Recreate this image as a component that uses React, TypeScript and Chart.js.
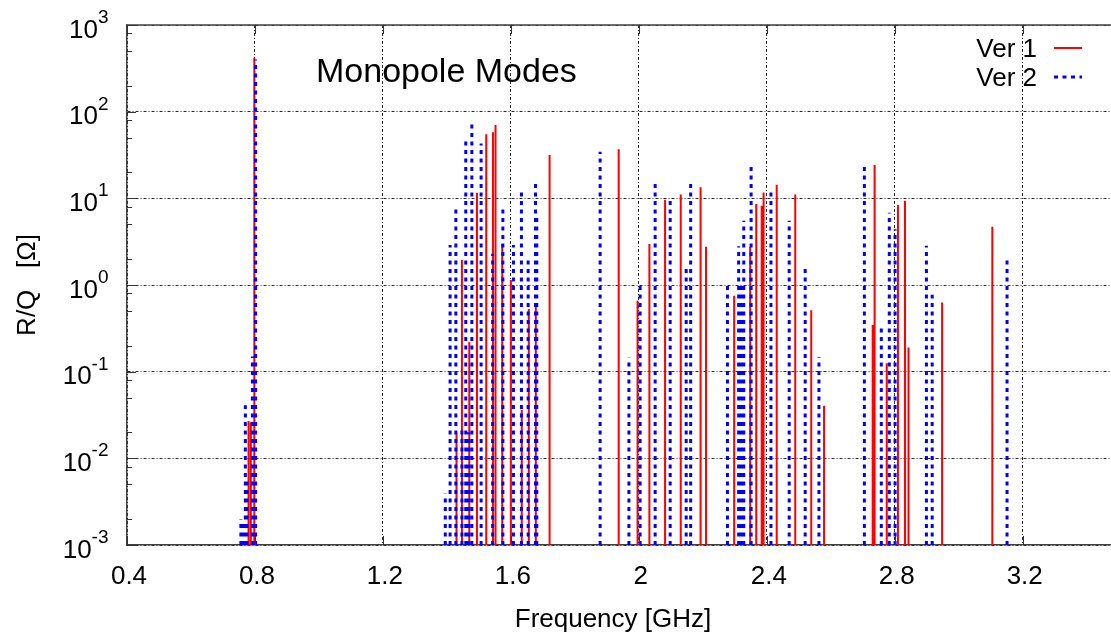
import React, { useEffect, useRef } from "react";
import { Chart, registerables } from "chart.js";

Chart.register(...registerables);

const FONT = '"Liberation Sans", Arial, Helvetica, sans-serif';

// Axis ranges
const FREQ_MIN = 0.4;
const FREQ_MAX = 3.476;
const RQ_MIN = 1e-3;
const RQ_MAX = 1e3;

const freqTickValues = [0.4, 0.8, 1.2, 1.6, 2.0, 2.4, 2.8, 3.2];
const freqTickLabels = ["0.4", "0.8", "1.2", "1.6", "2", "2.4", "2.8", "3.2"];
const rqExponents = [-3, -2, -1, 0, 1, 2, 3];
const rqMinorFactors = [2, 5, 8];

// Ver 1: mode frequency [GHz] and R/Q [Ω]
const ver1Freq = [
  0.78, 0.787, 0.798,
  1.43, 1.447, 1.47, 1.494, 1.523, 1.544, 1.552, 1.573, 1.6, 1.634, 1.656, 1.678, 1.721,
  1.937, 1.996, 2.033, 2.082, 2.131, 2.193, 2.21,
  2.298, 2.348, 2.367, 2.384, 2.39, 2.431, 2.489, 2.539, 2.579,
  2.731, 2.737, 2.775, 2.81, 2.832, 2.843, 2.948, 3.105,
];
const ver1RQ = [
  0.027, 0.026, 420,
  0.0195, 1.94, 0.22, 11.6, 55, 58, 70, 2.97, 1.14, 0.036, 0.53, 0.61, 31.6,
  36.8, 0.66, 2.97, 9.6, 11.1, 13.4, 2.77,
  0.75, 2.77, 8.6, 8.2, 11.7, 14.3, 11.1, 0.51, 0.0405,
  0.346, 24.3, 0.125, 8.4, 9.4, 0.19, 0.63, 4.7,
];

// Ver 2: mode frequency [GHz] and R/Q [Ω]
const ver2Freq = [
  0.756, 0.762, 0.77, 0.775, 0.792, 0.802,
  1.395, 1.41, 1.428, 1.447, 1.459, 1.468, 1.478, 1.507, 1.543, 1.575, 1.608, 1.633, 1.654, 1.677, 1.681,
  1.879, 1.969, 2.004, 2.051, 2.098, 2.148, 2.162, 2.277,
  2.312, 2.32, 2.328, 2.351, 2.413, 2.47, 2.52, 2.563,
  2.705, 2.758, 2.783, 2.801, 2.899, 2.917, 3.151,
];
const ver2RQ = [
  0.002, 0.0018, 0.041, 0.0058, 0.15, 400,
  0.0039, 2.9, 8.4, 0.021, 47, 0.02, 73.5, 43, 2.3, 8.0, 2.9, 13, 1.94, 16, 6.5,
  34.5, 0.145, 1.0, 16, 10, 1.56, 16, 1.0,
  2.8, 1.0, 5.5, 24.3, 12.5, 5.5, 1.56, 0.147,
  24.3, 0.33, 6.8, 4.4, 2.83, 0.77, 1.95,
];

const seriesNames = ["Ver 1", "Ver 2"];
const seriesColors = ["#ff0000", "#0000ff"];
const chartTitle = "Monopole Modes";
const xTitle = "Frequency [GHz]";
const yTitle = "R/Q   [Ω]";

const BLUE_DASH = [4, 4.5];
const GRID_DASH = [3, 2, 1, 2];

// Each mode becomes a vertical impulse from the bottom of the log axis.
function impulses(freqs: number[], values: number[]) {
  const pts: { x: number; y: number | null }[] = [];
  freqs.forEach((f, i) => {
    pts.push({ x: f, y: RQ_MIN }, { x: f, y: values[i] }, { x: f, y: null });
  });
  return pts;
}

const framePlugin = {
  id: "gnuplotFrame",
  afterDraw(chart: any) {
    const { ctx, chartArea: a, scales } = chart;
    const xs = scales.x;
    const ys = scales.y;
    ctx.save();

    // top border
    ctx.strokeStyle = "#404040";
    ctx.lineWidth = 1.5;
    ctx.beginPath();
    ctx.moveTo(a.left, a.top);
    ctx.lineTo(a.right, a.top);
    ctx.stroke();

    // inward tick marks
    ctx.lineWidth = 1;
    ctx.strokeStyle = "#333";
    ctx.beginPath();
    for (const v of freqTickValues) {
      const px = Math.round(xs.getPixelForValue(v)) + 0.5;
      ctx.moveTo(px, a.bottom);
      ctx.lineTo(px, a.bottom - 9);
      ctx.moveTo(px, a.top);
      ctx.lineTo(px, a.top + 9);
    }
    for (const e of rqExponents) {
      const py = Math.round(ys.getPixelForValue(Math.pow(10, e))) + 0.5;
      ctx.moveTo(a.left, py);
      ctx.lineTo(a.left + 9, py);
      if (e < rqExponents[rqExponents.length - 1]) {
        for (const m of rqMinorFactors) {
          const pm = Math.round(ys.getPixelForValue(m * Math.pow(10, e))) + 0.5;
          ctx.moveTo(a.left, pm);
          ctx.lineTo(a.left + 5, pm);
        }
      }
    }
    ctx.stroke();

    ctx.fillStyle = "#000";
    ctx.textBaseline = "alphabetic";

    // x tick labels
    ctx.font = `26px ${FONT}`;
    ctx.textAlign = "center";
    freqTickValues.forEach((v, i) => {
      ctx.fillText(freqTickLabels[i], xs.getPixelForValue(v) + 2, a.bottom + 39);
    });

    // y tick labels: 10 with superscript exponent
    const labelRight = a.left - 18.5;
    for (const e of rqExponents) {
      const py = ys.getPixelForValue(Math.pow(10, e));
      const exp = e < 0 ? `-${-e}` : `${e}`;
      ctx.textAlign = "right";
      ctx.font = `19px ${FONT}`;
      const ew = ctx.measureText(exp).width;
      ctx.fillText(exp, labelRight, py - 2);
      ctx.font = `26px ${FONT}`;
      ctx.fillText("10", labelRight - ew, py + 12.5);
    }

    // axis titles
    ctx.font = `26px ${FONT}`;
    ctx.textAlign = "center";
    ctx.fillText(xTitle, 613, 627);
    ctx.save();
    ctx.translate(28, (a.top + a.bottom) / 2);
    ctx.rotate(-Math.PI / 2);
    ctx.textBaseline = "middle";
    ctx.fillText(yTitle, 0, 0);
    ctx.restore();

    // plot label
    ctx.font = `34px ${FONT}`;
    ctx.textAlign = "left";
    ctx.fillText(chartTitle, 316, 82);

    // key
    ctx.font = `26px ${FONT}`;
    ctx.textAlign = "right";
    const keyY = [48, 77];
    seriesNames.forEach((name, i) => {
      ctx.fillText(name, 1037, keyY[i] + 9.3);
      ctx.beginPath();
      ctx.strokeStyle = seriesColors[i];
      ctx.lineWidth = i === 0 ? 2 : 3;
      ctx.setLineDash(i === 0 ? [] : BLUE_DASH);
      ctx.moveTo(1054, keyY[i]);
      ctx.lineTo(1082, keyY[i]);
      ctx.stroke();
    });
    ctx.setLineDash([]);
    ctx.restore();
  },
};

export default function App() {
  const canvasRef = useRef<HTMLCanvasElement | null>(null);

  useEffect(() => {
    const canvas = canvasRef.current;
    if (!canvas) return;
    const chart = new Chart(canvas, {
      type: "line",
      data: {
        datasets: [
          {
            label: seriesNames[1],
            data: impulses(ver2Freq, ver2RQ),
            borderColor: seriesColors[1],
            borderWidth: 3,
            borderDash: BLUE_DASH,
            borderCapStyle: "butt",
            pointRadius: 0,
            spanGaps: false,
            order: 0,
          },
          {
            label: seriesNames[0],
            data: impulses(ver1Freq, ver1RQ),
            borderColor: seriesColors[0],
            borderWidth: 2,
            borderCapStyle: "butt",
            pointRadius: 0,
            spanGaps: false,
            order: 1,
          },
        ],
      },
      options: {
        animation: false,
        responsive: false,
        devicePixelRatio: 1,
        layout: { padding: { top: 25, left: 0, right: 0, bottom: 0 } },
        plugins: {
          legend: { display: false },
          tooltip: { enabled: false },
          title: { display: false },
        },
        scales: {
          x: {
            type: "linear",
            min: FREQ_MIN,
            max: FREQ_MAX,
            afterBuildTicks: (scale: any) => {
              scale.ticks = freqTickValues.map((v) => ({ value: v }));
            },
            afterFit: (scale: any) => {
              scale.height = 91;
            },
            ticks: { display: false },
            grid: { color: "#2a2a2a", lineWidth: 1, drawTicks: false },
            border: { display: true, color: "#404040", width: 1.5, dash: GRID_DASH },
          },
          y: {
            type: "logarithmic",
            min: RQ_MIN,
            max: RQ_MAX,
            afterBuildTicks: (scale: any) => {
              scale.ticks = rqExponents.map((e) => ({ value: Math.pow(10, e) }));
            },
            afterFit: (scale: any) => {
              scale.width = 127;
            },
            ticks: { display: false },
            grid: { color: "#2a2a2a", lineWidth: 1, drawTicks: false },
            border: { display: true, color: "#404040", width: 1.5, dash: GRID_DASH },
          },
        },
      },
      plugins: [framePlugin],
    } as any);
    return () => chart.destroy();
  }, []);

  return (
    <div style={{ position: "absolute", left: 0, top: 0, width: 1111, height: 636, background: "#fff" }}>
      <canvas ref={canvasRef} width={1111} height={636} style={{ display: "block" }} />
    </div>
  );
}
